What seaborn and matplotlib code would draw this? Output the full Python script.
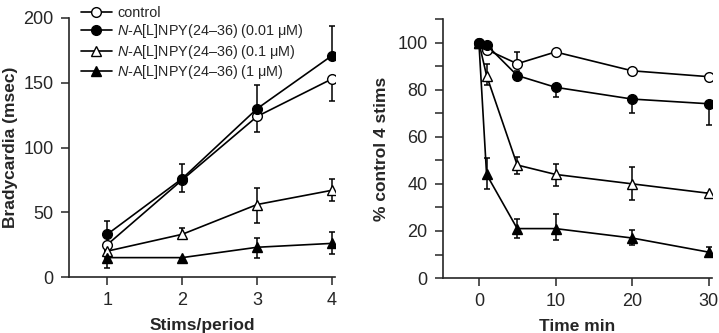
import matplotlib

matplotlib.use('Agg')
import matplotlib.pyplot as plt
import numpy as np
import pandas as pd
import seaborn as sns

# left panel: bradycardia vs stims/period
stims = [1, 2, 3, 4]
brady_ctrl = [25, 75, 124, 153]
brady_001 = [33, 76, 130, 171]
brady_01 = [20, 33, 56, 67]
brady_1 = [15, 15, 23, 26]
brady_ctrl_lo = [0, 9, 12, 17]
brady_ctrl_hi = [0, 0, 0, 0]
brady_001_lo = [0, 0, 0, 0]
brady_001_hi = [10, 11, 18, 23]
brady_01_lo = [0, 4, 14, 8]
brady_01_hi = [0, 5, 13, 9]
brady_1_lo = [8, 0, 8, 8]
brady_1_hi = [0, 0, 7, 9]

# right panel: % control 4 stims vs time
times = [0, 1, 5, 10, 20, 30]
pct_ctrl = [100, 97, 91, 96, 88, 85.5]
pct_001 = [100, 99, 86, 81, 76, 74]
pct_01 = [100, 86, 48, 44, 40, 36]
pct_1 = [100, 44, 21, 21, 17, 11]
pct_ctrl_lo = [0, 0, 0, 0, 0, 0]
pct_ctrl_hi = [0, 0, 5, 0, 0, 0]
pct_001_lo = [0, 0, 2, 4, 6, 9]
pct_001_hi = [0, 0, 2, 0, 0, 0]
pct_01_lo = [0, 4, 4, 5, 7, 0]
pct_01_hi = [0, 5, 3.5, 4.5, 7, 0]
pct_1_lo = [0, 6, 4, 5, 3, 2]
pct_1_hi = [0, 7, 4, 6, 3.5, 2]

labels = ['control',
          r'$N$-A[L]NPY(24–36) (0.01 μM)',
          r'$N$-A[L]NPY(24–36) (0.1 μM)',
          r'$N$-A[L]NPY(24–36) (1 μM)']

sns.set_style('ticks')
plt.rcParams['font.family'] = ['Liberation Sans', 'DejaVu Sans']
plt.rcParams['mathtext.fontset'] = 'custom'
plt.rcParams['mathtext.it'] = 'Liberation Sans:italic'
plt.rcParams['mathtext.rm'] = 'Liberation Sans'

styles = [('o', 'white'), ('o', 'black'), ('^', 'white'), ('^', 'black')]

fig = plt.figure(figsize=(7.19, 3.33), dpi=100)
ax1 = fig.add_axes([0.096, 0.168, 0.370, 0.778])
ax2 = fig.add_axes([0.616, 0.165, 0.374, 0.778])


def draw(ax, x, ys, los, his):
    for (m, fc), y, lo, hi, lab in zip(styles, ys, los, his, labels):
        ax.errorbar(x, y, yerr=[lo, hi], fmt='none', ecolor='black',
                    elinewidth=1.1, capsize=2.5, capthick=1.1, zorder=2)
        sns.lineplot(x=x, y=y, ax=ax, color='black', marker=m,
                     markerfacecolor=fc, markeredgecolor='black',
                     markeredgewidth=1.0, markersize=7, linewidth=1.2,
                     label=lab, zorder=3, legend=False)


draw(ax1, stims, [brady_ctrl, brady_001, brady_01, brady_1],
     [brady_ctrl_lo, brady_001_lo, brady_01_lo, brady_1_lo],
     [brady_ctrl_hi, brady_001_hi, brady_01_hi, brady_1_hi])
draw(ax2, times, [pct_ctrl, pct_001, pct_01, pct_1],
     [pct_ctrl_lo, pct_001_lo, pct_01_lo, pct_1_lo],
     [pct_ctrl_hi, pct_001_hi, pct_01_hi, pct_1_hi])

ax1.set_xlim(0.49, 4.04)
ax1.set_ylim(0, 200)
ax1.set_xticks(stims)
ax1.set_yticks([0, 50, 100, 150, 200])
ax1.set_xlabel('Stims/period', fontsize=12.5, fontweight='bold', labelpad=6)
ax1.set_ylabel('Bradycardia (msec)', fontsize=12.5, fontweight='bold', labelpad=4)

ax2.set_xlim(-4.7, 30.4)
ax2.set_ylim(0, 110)
ax2.set_xticks([0, 10, 20, 30])
ax2.set_yticks([0, 20, 40, 60, 80, 100])
ax2.set_yticks([10, 30, 50, 70, 90, 110], minor=True)
ax2.set_xlabel('Time min', fontsize=12.5, fontweight='bold', labelpad=6)
ax2.set_ylabel('% control 4 stims', fontsize=12.5, fontweight='bold', labelpad=6)

for ax in (ax1, ax2):
    sns.despine(ax=ax)
    ax.tick_params(axis='both', which='major', labelsize=13, length=6,
                   width=1.1, direction='out', pad=5)
    ax.tick_params(axis='y', which='minor', length=6, width=1.1)
    for s in ('left', 'bottom'):
        ax.spines[s].set_linewidth(1.2)

h, l = ax1.get_legend_handles_labels()
fig.legend(h, l, loc='upper left', bbox_to_anchor=(0.105, 1.0),
           frameon=False, fontsize=10.4, handlelength=2.1, handletextpad=0.4,
           labelspacing=0.17, numpoints=1, borderaxespad=0)

plt.savefig('out.png', dpi=100)
